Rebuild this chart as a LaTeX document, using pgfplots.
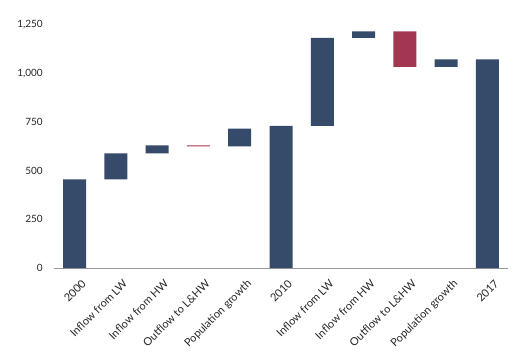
\documentclass[border=0pt]{standalone}
\usepackage{pgfplots}
\pgfplotsset{compat=1.18}
\usepackage{fontspec}
\setmainfont{Lato}
\definecolor{navy}{HTML}{364A6A}
\definecolor{wred}{HTML}{A33752}
\definecolor{txt}{HTML}{262626}
\begin{document}
\begin{tikzpicture}
\path (0,0) rectangle (528pt,-357pt);
\begin{axis}[
  at={(54pt,-268pt)}, anchor=south west,
  scale only axis, width=454pt, height=243.5pt,
  xmin=-0.5, xmax=10.5, ymin=0, ymax=1250,
  ybar stacked, bar width=23pt,
  axis y line=none,
  axis x line*=bottom,
  axis line style={draw=gray!80},
  x axis line style={-},
  xtick=data,
  xticklabels={2000,Inflow from LW,Inflow from HW,Outflow to L\&HW,Population growth,2010,Inflow from LW,Inflow from HW,Outflow to L\&HW,Population growth,2017},
  xtick style={draw=none},
  xticklabel style={rotate=45, anchor=north east, inner sep=0pt, xshift=-3pt, yshift=-12pt, font=\fontsize{11}{12}\selectfont, text=txt},
  clip=false,
]
\addplot[fill=none, draw=none] coordinates {(0,0) (1,455) (2,588) (3,625) (4,625) (5,0) (6,729) (7,1182) (8,1032) (9,1032) (10,0)};
\addplot[fill=navy, draw=none] coordinates {(0,455) (1,133) (2,42) (3,0) (4,90) (5,729) (6,452) (7,33) (8,0) (9,39) (10,1071)};
\addplot[fill=wred, draw=none] coordinates {(0,0) (1,0) (2,0) (3,5) (4,0) (5,0) (6,0) (7,0) (8,183) (9,0) (10,0)};
\pgfplotsinvokeforeach{0,250,500,750,1000,1250}{
  \node[anchor=east, inner sep=0pt, font=\fontsize{10}{11}\selectfont, text=txt] at (axis cs:-0.5,#1) [xshift=-11pt] {\pgfmathprintnumber[1000 sep={,}, assume math mode=true]{#1}};
}
\end{axis}
\end{tikzpicture}
\end{document}
